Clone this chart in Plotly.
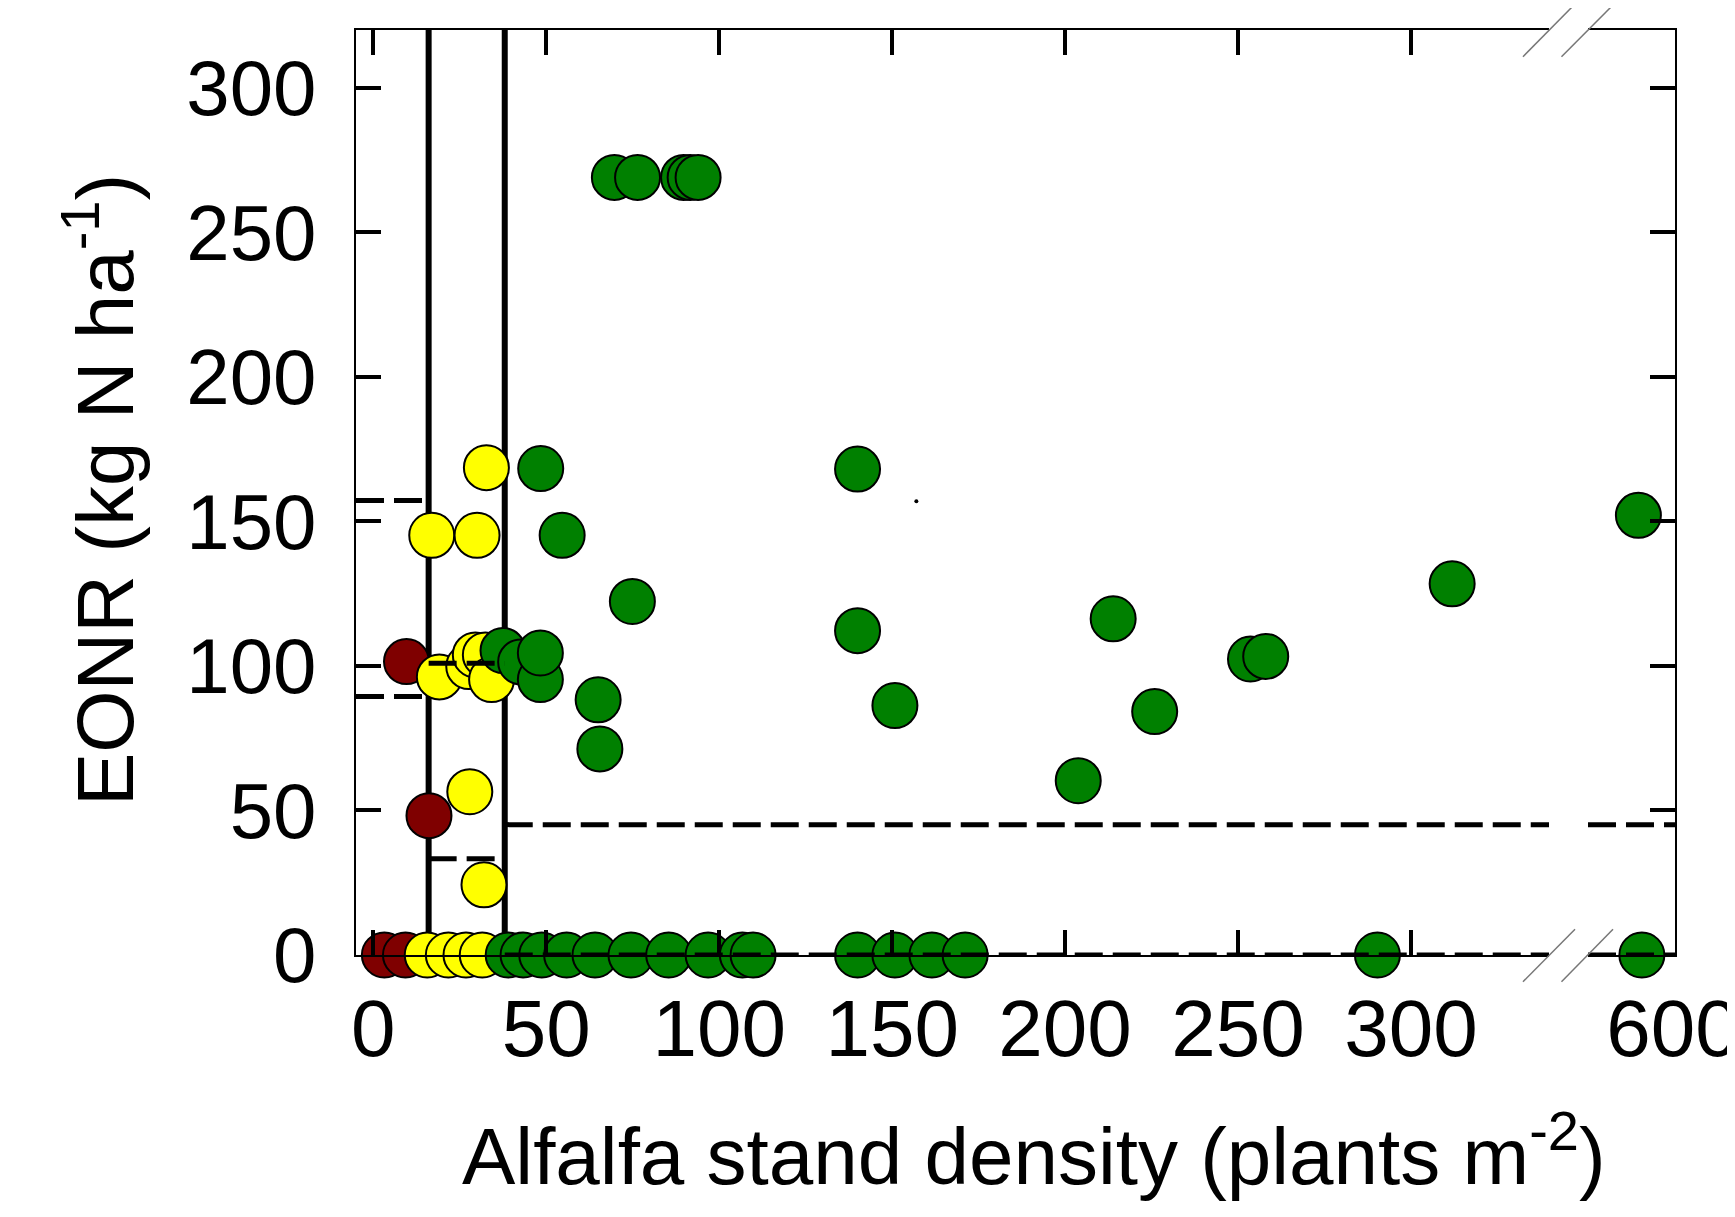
import plotly.graph_objects as go

# ---------------- data ----------------
maroon_x = [3.2, 9.3, 9.6, 16.1]
maroon_y = [0, 0, 101.5, 48.2]

yellow_x = [15.6, 21.7, 26.8, 31.5, 16.9, 30.0, 32.7, 19.1, 27.6, 29.5, 32.4, 34.2, 27.9, 32.0]
yellow_y = [0, 0, 0, 0, 145.2, 145.2, 168.6, 96.2, 99.8, 103.8, 103.8, 95.3, 56.5, 24.3]

green_x = [39.0, 43.3, 48.7, 55.9, 64.1, 74.5, 85.4, 96.8, 106.7, 109.8,
           140.0, 150.8, 161.5, 171.1, 290.3,
           37.5, 42.6, 48.3, 48.3, 48.4, 54.6, 74.9, 65.0, 65.5,
           69.7, 76.4, 89.7, 91.6, 93.9,
           140.0, 140.0, 150.8, 213.9, 203.8, 225.9, 253.6, 258.0, 311.9]
green_y = [0, 0, 0, 0, 0, 0, 0, 0, 0, 0,
           0, 0, 0, 0, 0,
           105.3, 101.4, 95.3, 104.5, 168.3, 145.2, 122.3, 88.3, 71.3,
           269.0, 269.0, 269.0, 269.0, 269.0,
           168.1, 112.2, 86.3, 116.3, 60.3, 84.2, 102.4, 103.3, 128.4]

green_far_x = [590.0, 591.0]
green_far_y = [152.1, 0]

stray_x = [157]
stray_y = [157]

thresholds = [16, 38]          # vertical separators
x_left, x_break, x_right = -5, 339.9, 600.6
x_far_left = 575.4
maroon_bounds = [89.4, 157.2]
yellow_bounds = [33.3, 100.9]
green_bounds = [0, 45.1]

y_ticks = [0, 50, 100, 150, 200, 250, 300]
x_ticks = [0, 50, 100, 150, 200, 250, 300]
x_far_ticks = [600]

FONT = "Arial, Liberation Sans, sans-serif"
C_MAROON = "#7f0000"
C_YELLOW = "#ffff00"
C_GREEN = "#008000"

# page body has an 8px margin: figure is placed at (8, 8)
W, H = 1727, 1209
PL, PT, PR, PB = 356, 30, 1675, 955    # plot area in page pixels
OFF = 8
L, T = PL - OFF, PT - OFF
R, B = W - (PR - OFF), H - (PB - OFF)
pw, ph = PR - PL, PB - PT
d1 = (1549 - PL) / pw
d2 = (1588 - PL) / pw

def px2paper(X, Y):
    return (X - PL) / pw, (PB - Y) / ph

fig = go.Figure()

# vertical threshold lines (under markers)
for tx in thresholds:
    fig.add_trace(go.Scatter(x=[tx, tx], y=[0, 320], mode="lines",
                             line=dict(color="black", width=6),
                             xaxis="x", yaxis="y", cliponaxis=False, hoverinfo="skip"))

def markers(xs, ys, color, xa="x", ya="y"):
    fig.add_trace(go.Scatter(x=xs, y=ys, mode="markers", xaxis=xa, yaxis=ya,
                             cliponaxis=False,
                             marker=dict(size=45, color=color,
                                         line=dict(color="black", width=2))))

markers(maroon_x, maroon_y, C_MAROON)
markers(yellow_x, yellow_y, C_YELLOW)
markers(green_x, green_y, C_GREEN)
markers(green_far_x, green_far_y, C_GREEN, "x2", "y2")

fig.add_trace(go.Scatter(x=stray_x, y=stray_y, mode="markers", xaxis="x", yaxis="y",
                         marker=dict(size=4, color="black")))

DASH = "28px,10px"
def dline(x0, x1, yv, xa="x", ya="y"):
    fig.add_trace(go.Scatter(x=[x0, x1], y=[yv, yv], mode="lines", xaxis=xa, yaxis=ya,
                             cliponaxis=False,
                             line=dict(color="black", width=5, dash=DASH)))

for b in maroon_bounds:
    dline(x_left, thresholds[0], b)
for b in yellow_bounds:
    dline(thresholds[0], thresholds[1], b)
for b in green_bounds:
    dline(thresholds[1], x_break, b)
    dline(x_far_left, x_right, b, "x2", "y2")

axis_common = dict(showgrid=False, zeroline=False, showline=True, linecolor="black",
                   linewidth=2, ticks="inside", ticklen=25, tickwidth=4, tickcolor="black",
                   tickfont=dict(family=FONT, size=80, color="black"))

fig.update_layout(
    width=W, height=H,
    margin=dict(l=L, r=R, t=T, b=B, autoexpand=False),
    paper_bgcolor="white", plot_bgcolor="white",
    showlegend=False, hovermode=False,
    xaxis=dict(domain=[0, d1], range=[x_left, x_break], tickvals=x_ticks,
               mirror="ticks", anchor="y", ticklabelstandoff=3, **axis_common),
    xaxis2=dict(domain=[d2, 1], range=[x_far_left, x_right], tickvals=x_far_ticks,
                showgrid=False, zeroline=False, showline=True, linecolor="black",
                linewidth=2, mirror=True, ticks="", anchor="y2", ticklabelstandoff=3,
                ticklabeloverflow="allow",
                tickfont=dict(family=FONT, size=80, color="black")),
    yaxis=dict(domain=[0, 1], range=[0, 320], tickvals=y_ticks, anchor="x",
               ticklabelstandoff=22,
               **{**axis_common, "tickfont": dict(family=FONT, size=78, color="black")}),
    yaxis2=dict(domain=[0, 1], range=[0, 320], tickvals=y_ticks, anchor="x2",
                side="right", showticklabels=False, **axis_common),
)

# axis titles
fig.add_annotation(text="EONR (kg N ha<sup>-1</sup>)", xref="paper", yref="paper",
                   x=px2paper(99, 0)[0], y=px2paper(0, 490)[1],
                   xanchor="center", yanchor="middle",
                   textangle=-90, showarrow=False,
                   font=dict(family=FONT, size=80, color="black"))
fig.add_annotation(text="Alfalfa stand density (plants m<sup>-2</sup>)", xref="paper", yref="paper",
                   x=px2paper(1034, 0)[0], y=px2paper(0, 1150)[1],
                   xanchor="center", yanchor="middle",
                   showarrow=False,
                   font=dict(family=FONT, size=80, color="black"))

# axis-break slashes
for (x0, y0, x1, y1) in [(1523, 56.7, 1575, 4), (1561.5, 56.7, 1614, 4),
                         (1523, 981.7, 1575, 929.3), (1561.5, 981.7, 1613, 929.3)]:
    a = px2paper(x0, y0); b = px2paper(x1, y1)
    fig.add_shape(type="line", xref="paper", yref="paper", x0=a[0], y0=a[1], x1=b[0], y1=b[1],
                  line=dict(color="#777777", width=1.5))

fig.write_html("out.html")
